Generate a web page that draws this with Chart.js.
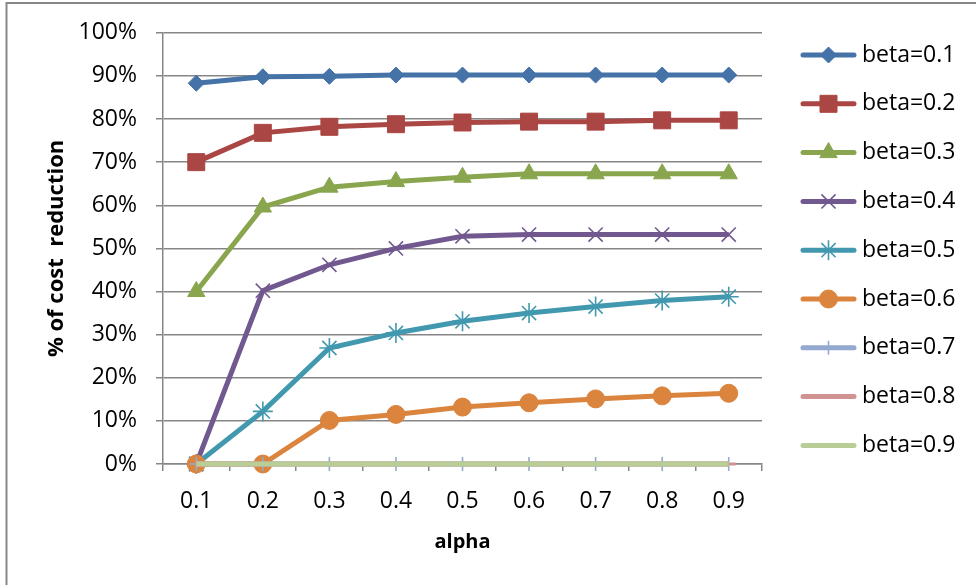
<!DOCTYPE html>
<html>
<head>
<meta charset="utf-8">
<script src="https://cdn.jsdelivr.net/npm/chart.js@4/dist/chart.umd.min.js"></script>
<style>
  html, body { margin: 0; padding: 0; background: #fff; }
  #wrap { width: 976px; height: 585px; position: relative; }
</style>
</head>
<body>
<div id="wrap"><canvas id="chart" width="976" height="585"></canvas></div>
<script>
// ~~~~~ data (percent) ~~~~~
const alphaLabels = ['0.1', '0.2', '0.3', '0.4', '0.5', '0.6', '0.7', '0.8', '0.9'];
const betaNames = ['beta=0.1', 'beta=0.2', 'beta=0.3', 'beta=0.4', 'beta=0.5', 'beta=0.6', 'beta=0.7', 'beta=0.8', 'beta=0.9'];
const beta01 = [88.3, 89.8, 89.9, 90.2, 90.2, 90.2, 90.2, 90.2, 90.2];
const beta02 = [70.0, 76.8, 78.2, 78.8, 79.2, 79.4, 79.4, 79.7, 79.7];
const beta03 = [40.0, 59.6, 64.2, 65.5, 66.5, 67.3, 67.3, 67.3, 67.3];
const beta04 = [0, 40.2, 46.2, 50.0, 52.8, 53.2, 53.2, 53.2, 53.2];
const beta05 = [0, 12.2, 26.9, 30.4, 33.1, 35.0, 36.5, 37.9, 38.8];
const beta06 = [0, 0, 10.1, 11.5, 13.2, 14.2, 15.1, 15.8, 16.4];
const beta07 = [0, 0, 0, 0, 0, 0, 0, 0, 0];
const beta08 = [0, 0, 0, 0, 0, 0, 0, 0, 0];
const beta09 = [0, 0, 0, 0, 0, 0, 0, 0, 0];
const yTicks = [0, 10, 20, 30, 40, 50, 60, 70, 80, 90, 100];

const seriesData = [beta01, beta02, beta03, beta04, beta05, beta06, beta07, beta08, beta09];
const colors = ['#4572A7', '#AA4643', '#89A54E', '#71588F', '#4198AF', '#DB843D', '#93A9CF', '#D19392', '#B9CD96'];
const markers = [
  { style: 'rectRot', r: 8, bw: 1 },
  { style: 'rect', r: 12, bw: 1 },
  { style: 'triangle', r: 10, bw: 1 },
  { style: 'crossRot', r: 10, bw: 1.6 },
  { style: 'star', r: 10, bw: 1.6 },
  { style: 'circle', r: 9, bw: 1 },
  { style: 'cross', r: 7, bw: 1.6 },
  { style: 'dash', r: 7, bw: 3 },
  { style: false, r: 0, bw: 0 }
];

const FONT = "'Open Sans', 'Noto Sans', sans-serif";

const datasets = seriesData.map((d, i) => ({
  label: betaNames[i],
  data: d,
  borderColor: colors[i],
  backgroundColor: colors[i],
  borderWidth: 5,
  pointStyle: markers[i].style,
  pointRadius: markers[i].r,
  pointHoverRadius: markers[i].r,
  pointBorderWidth: markers[i].bw,
  pointBorderColor: colors[i],
  pointBackgroundColor: colors[i],
  tension: 0,
  clip: false,
  order: 9 - i
}));

// legend on the right: line + marker + text
const sideLegend = {
  id: 'sideLegend',
  afterDraw(chart) {
    const ctx = chart.ctx;
    ctx.save();
    chart.data.datasets.forEach((ds, i) => {
      const y = 55 + i * 48.8;
      ctx.strokeStyle = ds.borderColor;
      ctx.lineWidth = 5;
      ctx.lineCap = 'round';
      ctx.beginPath();
      ctx.moveTo(803, y);
      ctx.lineTo(854, y);
      ctx.stroke();
      if (ds.pointStyle) {
        ctx.fillStyle = ds.pointBackgroundColor;
        ctx.strokeStyle = ds.pointBorderColor;
        ctx.lineWidth = ds.pointBorderWidth;
        ctx.lineCap = 'butt';
        Chart.helpers.drawPoint(ctx, {
          pointStyle: ds.pointStyle,
          radius: ds.pointRadius,
          rotation: 0,
          borderWidth: ds.pointBorderWidth
        }, 828.5, y);
      }
      ctx.fillStyle = '#000';
      ctx.font = '23px ' + FONT;
      ctx.textAlign = 'left';
      ctx.textBaseline = 'middle';
      ctx.fillText(ds.label, 862, y);
    });
    ctx.restore();
  }
};

// cropped outer frame (top and left edges only)
const frame = {
  id: 'frame',
  beforeDraw(chart) {
    const ctx = chart.ctx;
    ctx.save();
    ctx.fillStyle = '#fff';
    ctx.fillRect(0, 0, chart.width, chart.height);
    ctx.strokeStyle = '#878787';
    ctx.lineWidth = 2;
    ctx.beginPath();
    ctx.moveTo(6.5, 585);
    ctx.lineTo(6.5, 3);
    ctx.lineTo(976, 3);
    ctx.stroke();
    ctx.restore();
  }
};

new Chart(document.getElementById('chart'), {
  type: 'line',
  data: { labels: alphaLabels, datasets: datasets },
  plugins: [frame, sideLegend],
  options: {
    responsive: false,
    animation: false,
    layout: { padding: { top: 31, right: 214, left: 0, bottom: 0 } },
    plugins: {
      legend: { display: false },
      tooltip: { enabled: false }
    },
    scales: {
      x: {
        type: 'category',
        offset: true,
        grid: {
          offset: true,
          drawOnChartArea: false,
          drawTicks: true,
          tickLength: 7,
          color: '#868686',
          lineWidth: 1.5
        },
        border: { color: '#868686', width: 1.5 },
        ticks: { color: '#000', font: { family: FONT, size: 23 }, padding: 17, maxRotation: 0 },
        title: {
          display: true,
          text: 'alpha',
          color: '#000',
          font: { family: FONT, size: 20, weight: 'bold' },
          padding: { top: 0, bottom: 31 }
        },
        afterFit(s) { s.height = 121; }
      },
      y: {
        min: 0,
        max: 100,
        afterBuildTicks(s) { s.ticks = yTicks.map(v => ({ value: v })); },
        grid: {
          color: '#868686',
          lineWidth: 1.5,
          tickLength: 7
        },
        border: { color: '#868686', width: 1.5 },
        ticks: {
          color: '#000',
          font: { family: FONT, size: 23 },
          padding: 19,
          callback: v => v + '%'
        },
        title: {
          display: true,
          text: '% of cost  reduction',
          color: '#000',
          font: { family: FONT, size: 22, weight: 'bold' },
          padding: { top: 44, bottom: 0 }
        },
        afterFit(s) { s.width = 163; }
      }
    }
  }
});
</script>
</body>
</html>
